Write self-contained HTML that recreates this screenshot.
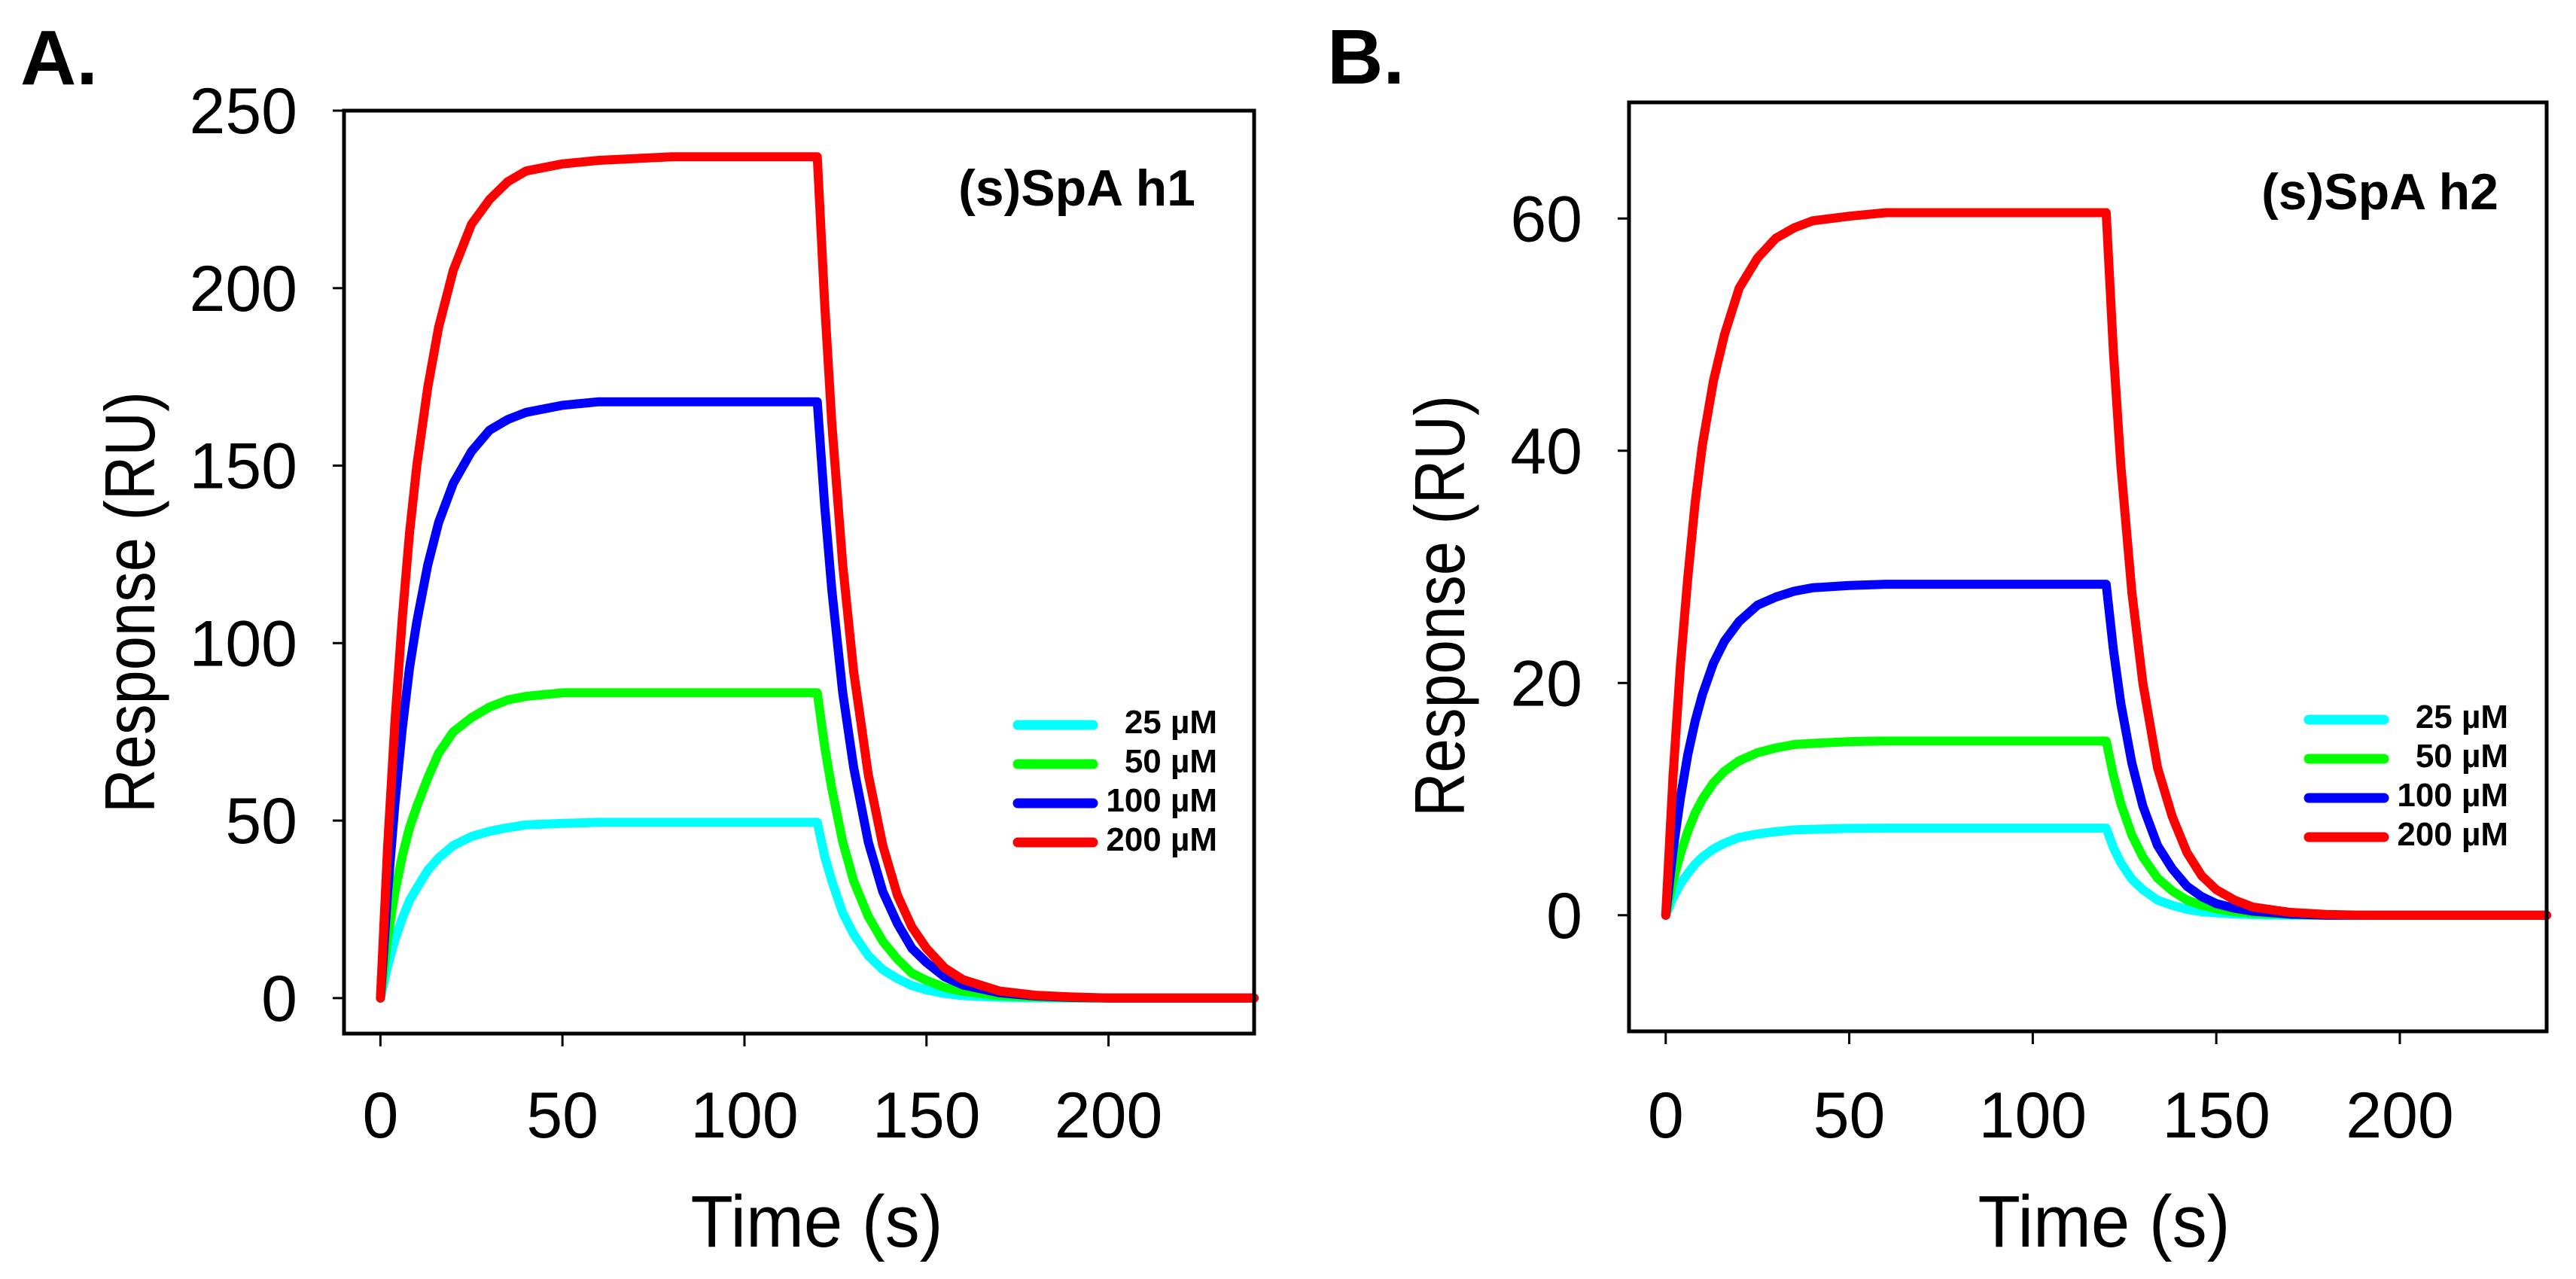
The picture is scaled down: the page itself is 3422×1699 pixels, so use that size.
<!DOCTYPE html>
<html>
<head>
<meta charset="utf-8">
<style>
  html, body { margin: 0; padding: 0; background: #fff; }
  svg { display: block; }
  text { font-family: "Liberation Sans", Arial, sans-serif; fill: #000; }
</style>
</head>
<body>
<svg id="fig" width="3422" height="1699" viewBox="0 0 3422 1699" xmlns="http://www.w3.org/2000/svg">
  <rect x="0" y="0" width="3422" height="1699" fill="#fff"/>
  <text x="27" y="112" font-size="103" font-weight="bold">A.</text>
  <text x="1763" y="111" font-size="103" font-weight="bold">B.</text>
  <g id="panelA"></g>
  <g id="panelB"></g>
</svg>
<script>
// ---- shared data ----
const times = [0,2,4,6,8,10,13,16,20,25,30,35,40,50,60,80,100,120,122,124,127,130,134,138,142,146,150,155,160,170,180,190,200,220,240];
const seriesLabels = ["25 µM","50 µM","100 µM","200 µM"];
const seriesColors = ["#00FFFF","#00FF00","#0000FF","#FF0000"];
const xTicks = [0,50,100,150,200];

// ---- panel A: (s)SpA h1 ----
const aCyan  = [0,9,16.5,22.5,27.5,31,36,39.5,43,45.5,47,48,48.8,49.2,49.5,49.5,49.5,49.5,40,33,24,18,12,8,5.5,3.5,2.3,1.3,0.7,0.25,0.1,0,0,0,0];
const aGreen = [0,17,30,40,48,54,62,69,75,79,82,84,85,86,86,86,86,86,71,59,44,33,23,16,11,7,5,3,1.9,0.7,0.3,0.1,0,0,0];
const aBlue  = [0,30,55,76,93,106,122,134,145,154,160,163,165,167,168,168,168,168,139,115,86,65,44,30,21,14,10,6,3.7,1.5,0.6,0.2,0,0,0];
const aRed   = [0,43,78,107,131,150,172,189,205,218,225,230,233,235,236,237,237,237,196,162,122,92,63,43,29,20,14,8.5,5.2,2,0.8,0.3,0,0,0];
const aYTicks = [0,50,100,150,200,250];

// ---- panel B: (s)SpA h2 ----
const bCyan  = [0,1.5,2.7,3.6,4.4,5,5.7,6.2,6.7,7,7.2,7.35,7.4,7.48,7.5,7.5,7.5,7.5,5.8,4.5,3.1,2.2,1.3,0.85,0.5,0.3,0.2,0.1,0.05,0,0,0,0,0,0];
const bGreen = [0,3,5.3,7.2,8.8,10,11.4,12.4,13.3,14,14.4,14.7,14.8,14.95,15,15,15,15,12,9.6,6.9,5,3.2,2.1,1.3,0.85,0.55,0.3,0.18,0.06,0,0,0,0,0];
const bBlue  = [0,5.6,10.1,13.8,16.7,19,21.7,23.6,25.3,26.7,27.4,27.9,28.2,28.4,28.5,28.5,28.5,28.5,22.8,18.2,13.1,9.4,6,4,2.5,1.6,1,0.6,0.35,0.1,0,0,0,0,0];
const bRed   = [0,12,21.5,29,35.5,40.5,46,50,54,56.6,58.3,59.2,59.8,60.2,60.5,60.5,60.5,60.5,48.4,38.7,27.8,20,12.7,8.5,5.4,3.4,2.2,1.3,0.7,0.25,0.06,0,0,0,0];
const bYTicks = [0,20,40,60];

const NS = "http://www.w3.org/2000/svg";
function mk(tag, attrs, parent) {
  const e = document.createElementNS(NS, tag);
  for (const k in attrs) e.setAttribute(k, attrs[k]);
  parent.appendChild(e);
  return e;
}

function drawPanel(g, cfg) {
  const xs = v => cfg.left + (v - cfg.xMin) / (cfg.xMax - cfg.xMin) * (cfg.right - cfg.left);
  const ys = v => cfg.bottom - (v - cfg.yMin) / (cfg.yMax - cfg.yMin) * (cfg.bottom - cfg.top);

  // series
  const sg = mk("g", {}, g);
  
  
  cfg.series.forEach((vals, i) => {
    let d = "";
    vals.forEach((v, j) => { d += (j ? "L" : "M") + xs(times[j]).toFixed(1) + "," + ys(v).toFixed(1); });
    const p = mk("path", {d: d, fill: "none", stroke: seriesColors[i], "stroke-width": 12, "stroke-linecap": "round", "stroke-linejoin": "round"}, sg);
    
    
  });

  // frame
  const fr = mk("rect", {x: cfg.left, y: cfg.top, width: cfg.right - cfg.left, height: cfg.bottom - cfg.top, fill: "none", stroke: "#000", "stroke-width": 5}, g);
  
  

  // y ticks
  cfg.yTicks.forEach(t => {
    const y = ys(t);
    const l = mk("line", {x1: cfg.left - 15, x2: cfg.left, y1: y, y2: y, stroke: "#000", "stroke-width": 3}, g);
    
    
    const tx = mk("text", {x: cfg.left - 62, y: y + 30, "font-size": 86, "text-anchor": "end"}, g);
    tx.textContent = t;
    
    
  });
  // x ticks
  xTicks.forEach(t => {
    const x = xs(t);
    const l = mk("line", {x1: x, x2: x, y1: cfg.bottom, y2: cfg.bottom + 17, stroke: "#000", "stroke-width": 3}, g);
    
    
    const tx = mk("text", {x: x, y: 1511, "font-size": 86, "text-anchor": "middle"}, g);
    tx.textContent = t;
    
    
  });

  // axis titles
  const xt = mk("text", {x: cfg.xTitleX, y: 1656, "font-size": 97, "text-anchor": "middle", textLength: 335, lengthAdjust: "spacingAndGlyphs"}, g);
  xt.textContent = "Time (s)";
  
  
  const yt = mk("text", {x: 0, y: 0, "font-size": 94, "text-anchor": "middle", textLength: 560, lengthAdjust: "spacingAndGlyphs", transform: "translate(" + cfg.yTitleX + "," + cfg.yTitleY + ") rotate(-90)"}, g);
  yt.textContent = "Response (RU)";
  
  

  // panel title
  const pt = mk("text", {x: cfg.titleRight, y: cfg.titleY, "font-size": 68, "font-weight": "bold", "text-anchor": "end"}, g);
  pt.textContent = cfg.title;
  
  

  // legend
  const lg = mk("g", {}, g);
  
  
  seriesLabels.forEach((lab, i) => {
    const y = cfg.legendY + i * 52;
    const ln = mk("line", {x1: cfg.legendX, x2: cfg.legendX + 100, y1: y, y2: y, stroke: seriesColors[i], "stroke-width": 13, "stroke-linecap": "round"}, lg);
    
    
    const tx = mk("text", {x: cfg.legendTextRight, y: y + 11, "font-size": 44, "font-weight": "bold", "text-anchor": "end"}, lg);
    tx.textContent = lab;
    
    
  });
}

drawPanel(document.getElementById("panelA"), {
  left: 457, right: 1666, top: 147, bottom: 1373,
  xMin: -10, xMax: 240, yMin: -10, yMax: 250,
  yTicks: aYTicks, series: [aCyan, aGreen, aBlue, aRed],
  xTitleX: 1085, yTitleX: 205, yTitleY: 800,
  title: "(s)SpA h1", titleRight: 1588, titleY: 273,
  legendX: 1352, legendY: 963, legendTextRight: 1617
});
drawPanel(document.getElementById("panelB"), {
  left: 2164, right: 3383, top: 136, bottom: 1370,
  xMin: -10, xMax: 240, yMin: -10, yMax: 70,
  yTicks: bYTicks, series: [bCyan, bGreen, bBlue, bRed],
  xTitleX: 2795, yTitleX: 1945, yTitleY: 805,
  title: "(s)SpA h2", titleRight: 3319, titleY: 278,
  legendX: 3067, legendY: 956, legendTextRight: 3332
});
</script>
</body>
</html>
